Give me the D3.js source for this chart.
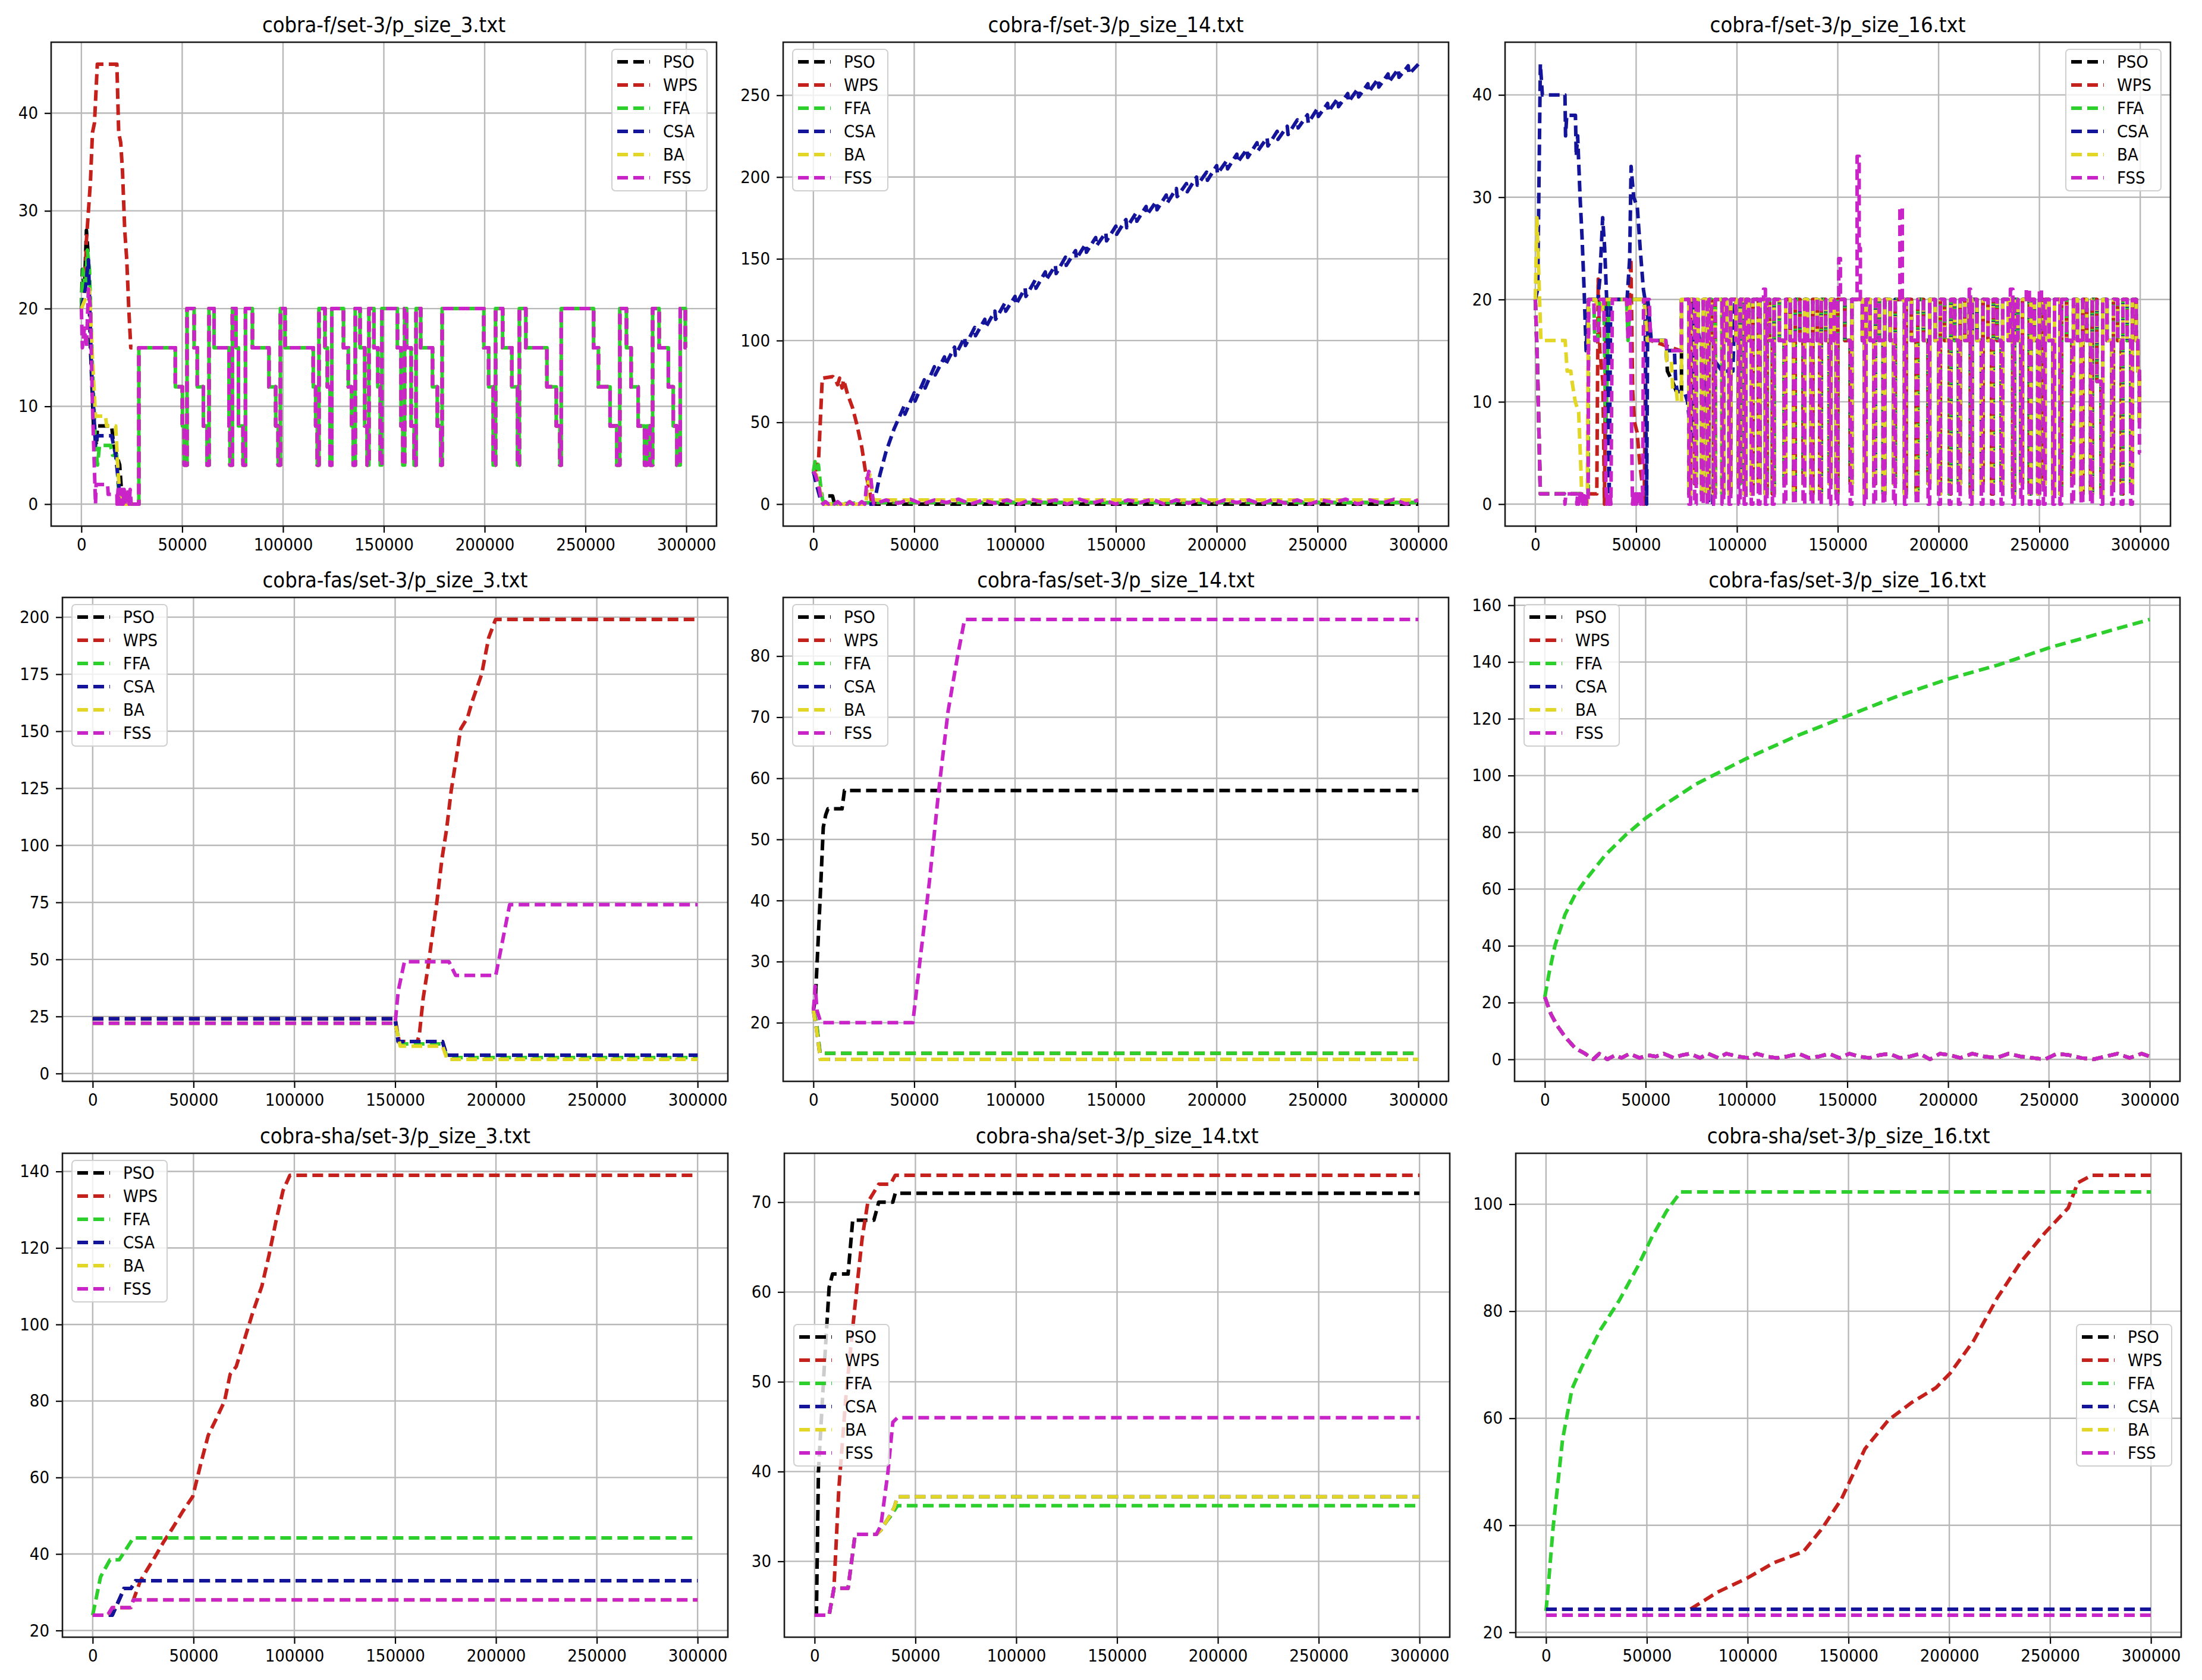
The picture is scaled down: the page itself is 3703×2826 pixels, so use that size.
<!DOCTYPE html>
<html>
<head>
<meta charset="utf-8">
<script src="https://cdn.jsdelivr.net/npm/d3@7"></script>
<style>
  body { margin: 0; background: #fff; }
  text { font-family: "DejaVu Sans Condensed", "DejaVu Sans", sans-serif; font-stretch: condensed; fill: #000; }
</style>
</head>
<body>
<svg id="chart"></svg>
<script>
// ---- shared ----
var algos = ["PSO", "WPS", "FFA", "CSA", "BA", "FSS"];
var colors = ["#000000", "#c4201c", "#2ccf2c", "#14149a", "#e2d626", "#c824c8"];
var xTicks = [0, 50000, 100000, 150000, 200000, 250000, 300000];

// ---- cobra-f / p_size_3 ----
var f3Ticks = [0, 10, 20, 30, 40];
var f3PsoHead = [[0,20],[500,24],[1500,22],[2500,28],[3200,26],[4500,16],[6000,8],[7500,6],[8000,8],[15000,8],[16000,6],[19000,4],[20000,1],[24000,0],[25300,0]];
var f3WpsHead = [[0,20],[1500,21],[2500,27],[4500,33],[5500,38],[6500,39],[7900,45],[17600,45],[18500,38],[19500,37],[20400,34],[21500,28],[22500,25],[23500,20],[24500,16],[25300,16]];
var f3FfaHead = [[0,20],[800,24],[2000,22],[3000,26],[4000,24],[5500,14],[7000,6],[8000,4],[9000,6],[14500,6],[15500,5],[17500,5],[18500,1],[20000,0],[25300,0]];
var f3CsaHead = [[0,20],[2000,22],[3500,25],[5000,14],[7000,6],[8000,7],[15000,7],[17000,5],[19000,1],[21000,0],[25300,0]];
var f3BaHead = [[0,20],[2000,21],[4000,22],[5500,15],[7000,9],[12000,9],[12500,8],[17000,8],[18000,4],[19000,1],[20500,0],[25300,0]];
var f3FssHead = [[0,20],[500,16],[1500,18],[2500,16],[3500,22],[4500,20],[5500,10],[7000,0],[7300,2],[13000,2],[13300,1],[17600,1],[17700,0],[18200,1.5],[18700,0],[19200,1.5],[19700,0],[20200,1.5],[20700,0],[21200,1.5],[21700,0],[22200,1.5],[22700,0],[23200,1.5],[23700,0],[24200,1.5],[24700,0],[25300,0]];
// step changes shared by all algorithms after ~25000 evaluations: [x, new value]
var f3Tail = [[25300,20],[28500,16],[46600,12],[50100,8],[51000,4],[52400,20],[55900,16],[57500,12],[60500,8],[62300,4],[63300,20],[65800,16],[73200,8],[73700,4],[74900,20],[76700,16],[77900,8],[80200,4],[81400,20],[84800,16],[93000,12],[96400,8],[97600,4],[98700,20],[101000,16],[115000,12],[116200,8],[117000,4],[117800,20],[120800,16],[122000,12],[123300,4],[124200,20],[130000,16],[132400,12],[134000,8],[134800,4],[135800,20],[138200,16],[140500,8],[141700,4],[142600,20],[145100,16],[147000,12],[148200,4],[149000,20],[156700,16],[158500,8],[159400,4],[160300,20],[161300,16],[163500,8],[165000,4],[166000,20],[168300,16],[174100,12],[176500,8],[178200,4],[178900,20],[199600,16],[202000,12],[204200,4],[205400,20],[208900,16],[213500,12],[216300,4],[217200,20],[220400,16],[230900,12],[235500,8],[237300,4],[238000,20],[254000,16],[256400,12],[262200,8],[265500,4],[267000,20],[270300,16],[272600,12],[276100,8],[279300,4],[280500,8],[282000,4],[283300,20],[286500,16],[291100,12],[293500,8],[295300,4],[297000,20],[299500,16]];

// ---- cobra-f / p_size_14 ----
var f14Ticks = [0, 50, 100, 150, 200, 250];
var f14Pso = [[0,20],[1500,15],[3000,8],[4500,5],[9500,5],[10500,0],[30000,0],[300000,0]];
var f14Wps = [[0,20],[1500,21],[2600,28],[4400,77],[9600,78],[11000,76],[12000,73],[13000,77],[14200,71],[15000,76],[17000,67],[19400,59],[21700,48],[24100,34],[25700,21],[27000,13],[28200,6],[29000,0],[30000,1],[300000,1]];
var f14Ffa = [[0,20],[800,26],[1700,22],[2500,24],[3500,12],[4500,3],[5500,0],[30000,1],[300000,1]];
var f14Csa = [[0,20],[1500,12],[3500,3],[5000,0],[30000,0],[33000,18],[36000,32],[40000,46],[45000,60],[45400,55],[50000,68],[50400,63],[55000,76],[55400,71],[60000,84],[60400,79],[65000,90],[65400,85],[70000,96],[70400,91],[75000,102],[75400,97],[80000,108],[80400,103],[85000,113],[85400,108],[90000,118],[90400,113],[95000,123],[95400,118],[100000,127],[100400,122],[105000,132],[105400,127],[110000,137],[110400,132],[115000,142],[115400,137],[120000,146],[120400,141],[125000,151],[125400,146],[130000,155],[130400,150],[135000,159],[135400,154],[140000,163],[140400,158],[145000,166],[145400,161],[150000,170],[150400,165],[155000,174],[155400,169],[160000,178],[160400,173],[165000,182],[165400,177],[170000,185],[170400,180],[175000,189],[175400,184],[180000,193],[180400,188],[185000,196],[185400,191],[190000,200],[190400,195],[195000,203],[195400,198],[200000,207],[200400,202],[205000,210],[205400,205],[210000,214],[210400,209],[215000,217],[215400,212],[220000,221],[220400,216],[225000,224],[225400,219],[230000,228],[230400,223],[235000,231],[235400,226],[240000,235],[240400,230],[245000,238],[245400,233],[250000,242],[250400,237],[255000,245],[255400,240],[260000,248],[260400,243],[265000,251],[265400,246],[270000,254],[270400,249],[275000,257],[275400,252],[280000,260],[280400,255],[285000,263],[285400,258],[290000,266],[290400,261],[295000,268],[295400,263],[300000,269]];
var f14Ba = [[0,20],[1500,18],[3000,10],[4500,2],[5500,0],[26000,0],[27000,12],[28000,18],[29500,4],[30000,2.5],[300000,2.5]];
var f14Fss = [[0,20],[1000,18],[2500,12],[4000,2],[4800,0],[6000,1.5],[7500,0],[9000,1.5],[10500,0],[12000,1.5],[13500,0],[15000,1.5],[16500,0],[18000,1.5],[19500,0],[21000,1.5],[22500,0],[24000,1.5],[25500,0],[26500,14],[27500,20],[28500,16],[29500,3],
  [30000,0],[36000,2.5],[42000,0.5],[48000,3],[54000,0],[60000,2.5],[66000,1],[72000,3],[78000,0],[84000,2.5],[90000,0.5],[96000,2.5],[102000,0],[108000,3],[114000,1],[120000,2.5],[126000,0],[132000,3],[138000,0.5],[144000,2.5],[150000,0],[156000,2.5],[162000,1],[168000,3],[174000,0],[180000,2.5],[186000,0.5],[192000,3],[198000,0],[204000,2.5],[210000,1],[216000,2.5],[222000,0],[228000,3],[234000,0.5],[240000,2.5],[246000,0],[252000,2.5],[258000,1],[264000,3],[270000,0],[276000,2.5],[282000,0.5],[288000,3],[294000,0],[300000,2.5]];

// ---- cobra-f / p_size_16 ----
var f16Ticks = [0, 10, 20, 30, 40];
var f16PsoHead = [[0,20],[1000,14],[2500,1],[26200,1],[26400,20],[54000,20],[55500,16],[64600,16],[65500,13],[68000,12],[70000,11],[72000,11]];
var f16WpsHead = [[0,20],[1000,14],[2500,1],[30500,1],[31200,22],[32000,15],[33500,12],[34300,0],[35000,20],[46600,20],[47400,24],[48300,11],[49200,8],[50500,7],[51800,4],[53000,2],[54000,0],[55000,20],[57000,16],[72000,15]];
var f16FfaHead = [[0,20],[1000,14],[2500,1],[26200,1],[26400,20],[29000,20],[29500,16],[31000,16],[32000,20],[34000,20],[35000,7],[36500,20],[45300,20],[46000,16],[47000,20],[54000,20],[55500,16],[64700,16],[65200,15],[72000,15]];
var f16CsaHead = [[0,20],[1200,21],[2500,43],[3500,40],[14700,40],[15000,36],[15600,38],[19900,38],[20300,34],[21000,36],[22200,30],[23200,26],[24200,21],[25200,15],[26300,20],[31000,20],[32000,22],[33400,28],[34400,25],[35400,20],[36600,0],[37400,20],[45500,20],[46800,24],[47500,33],[48800,30],[50600,29],[52000,25],[53600,21],[54400,20],[55200,0],[55800,20],[57500,16],[64700,16],[65300,15],[69000,15],[69600,12],[70400,11],[74000,11],[75500,10],[77400,6],[78300,20],[81500,16],[84700,13],[86000,0],[88000,0],[89000,14],[92600,13],[98000,13],[99000,20]];
var f16BaHead = [[0,20],[800,28],[1800,22],[2800,16],[14800,16],[15800,13],[17600,13],[18200,12],[19800,10],[21500,9],[22500,4],[23200,0],[25800,0],[26300,20],[30000,20],[30500,19],[33000,19],[33800,20],[45000,20],[46000,18],[47500,20],[54000,20],[55500,16],[64600,16],[65200,14],[67500,14],[68200,11],[70000,11],[70500,10],[72000,10]];
var f16FssHead = [[0,20],[1000,14],[2500,1],[14500,1],[14700,0],[15200,1],[20400,1],[20600,0],[21000,1],[21500,0],[22000,1],[22500,0],[23000,1],[23500,0],[24000,1],[24500,0],[25000,1],[25500,0],[26200,0],[26400,20],[29000,20],[29500,16],[31000,16],[32000,20],[34000,20],[35000,2],[35500,0],[36000,1],[36500,0],[37000,1],[37500,0],[38200,20],[45300,20],[46000,16],[47000,20],[48200,0],[48700,1],[49200,0],[49700,1],[50200,0],[50700,1],[51200,0],[51700,1],[52200,0],[52700,1],[53200,0],[53700,20],[56500,20],[57200,16],[64700,16],[65200,15],[72000,15]];
// dense on/off pattern after ~72000: [x, FSS value, value of the others]
var f16Comb = [
  [72500,20,20],[76200,0,1],[77000,20,20],[79000,0,2],[79800,20,20],[80800,16,16],
  [82500,0,1],[83300,20,20],[85300,0,1],[86100,20,20],[87300,16,16],[88400,0,1],[89200,20,20],
  [92600,0,1],[93400,20,20],[94800,16,16],[96100,0,1],[96900,20,20],[99500,16,16],
  [100800,0,2],[101600,20,20],[103600,0,1],[104400,20,20],[105800,16,16],[107100,0,1],[107900,20,20],
  [110600,0,2],[111400,20,20],[113200,21,20],[114100,0,1],[114900,20,20],[116200,16,16],
  [117600,0,1],[118400,20,20],[121000,16,16],[123400,0,2],[124200,20,20],[126400,16,16],
  [128100,0,1],[128900,20,20],[131200,16,16],[132800,0,2],[133600,20,20],[135000,16,16],
  [136800,0,1],[137600,20,20],[139800,16,16],[141000,0,1],[141800,20,20],[144000,16,16],
  [145700,0,2],[146500,20,20],[148200,16,16],[149200,0,1],[150000,20,20],[150500,24,20],[151300,20,20],
  [153500,16,16],[156200,0,2],[157000,20,20],[159600,34,20],[160600,25,20],[161200,20,20],[162200,16,16],
  [163200,0,1],[164000,20,20],[166000,16,16],[167900,0,2],[168700,20,20],[170600,16,16],
  [172500,0,1],[173300,20,20],[176000,16,16],[177700,0,2],[178500,20,20],[180800,29,20],[182000,20,20],
  [183100,0,1],[183900,20,20],[186500,16,16],[188900,0,1],[189700,20,20],[192500,16,16],
  [194800,0,2],[195600,20,20],[198300,16,16],[200100,0,1],[200900,20,20],[203000,16,16],
  [205300,0,1],[206100,20,20],[208000,16,16],[209900,0,2],[210700,20,20],[213000,16,16],
  [215200,21,20],[215800,0,1],[216600,20,20],[219000,16,16],[221200,0,2],[222000,20,20],[224500,16,16],
  [226300,0,1],[227100,20,20],[229000,16,16],[231000,0,2],[231800,20,20],[234500,16,16],
  [235600,21,20],[236800,0,1],[237600,20,20],[239300,16,16],[240800,0,2],[241600,20,20],
  [243500,21,20],[245000,0,1],[245800,20,20],[247500,16,16],[249200,0,1],[250000,21,20],[251000,20,20],
  [252000,0,2],[252800,20,20],[254800,16,16],[256700,0,1],[257500,20,20],[260200,0,1],[261000,20,20],
  [263500,16,16],[266100,0,2],[266900,20,20],[268900,16,16],[270700,0,1],[271500,20,20],[273500,16,16],
  [275400,0,1],[276200,20,20],[278500,12,12],[280600,0,1],[281400,20,20],[283500,16,16],
  [285900,0,2],[286700,20,20],[288800,16,16],[290600,0,1],[291400,20,20],[293500,16,16],
  [295300,0,2],[296100,20,20],[298000,16,16],[298800,13,13],[299600,5,8]
];

// ---- cobra-fas / p_size_3 ----
var fas3Ticks = [0, 25, 50, 75, 100, 125, 150, 175, 200];
var fas3Pso = [[0,24],[150000,24],[151500,14],[173500,14],[175500,8],[300000,8]];
var fas3Wps = [[0,24],[150000,24],[152000,14],[161000,14],[162000,17],[163900,33],[166200,46],[168500,61],[170800,76],[173200,94],[175500,107],[177800,124],[180100,137],[182500,151],[185900,156],[188200,163],[192900,175],[196400,191],[199800,199],[300000,199]];
var fas3Ffa = [[0,22],[150000,22],[152500,13],[173500,13],[175800,7],[300000,7]];
var fas3Csa = [[0,24],[150000,24],[151500,14],[173500,14],[175500,8],[300000,8]];
var fas3Ba = [[0,22],[150000,22],[152500,12],[173500,12],[175800,6.2],[300000,6.2]];
var fas3Fss = [[0,22],[150000,22],[151500,36],[154600,49],[176700,49],[180000,43],[199900,43],[206800,74],[300000,74]];

// ---- cobra-fas / p_size_14 ----
var fas14Ticks = [20, 30, 40, 50, 60, 70, 80];
var fas14Pso = [[0,22],[1000,24],[3300,40],[4900,52],[6100,54],[7200,55],[14200,55],[15400,58],[300000,58]];
var fas14Wps = [[0,22],[1500,20],[3300,15],[300000,15]];
var fas14Ffa = [[0,22],[1500,20],[3300,15],[300000,15]];
var fas14Csa = [[0,22],[1500,19],[3500,14],[300000,14]];
var fas14Ba = [[0,22],[1500,19],[3500,14],[300000,14]];
var fas14Fss = [[0,22],[900,26],[1800,22],[3700,20],[49300,20],[52800,30],[57500,43],[62150,58],[66800,71],[71500,80],[75000,86],[300000,86]];

// ---- cobra-fas / p_size_16 ----
var fas16Ticks = [0, 20, 40, 60, 80, 100, 120, 140, 160];
var fas16Ffa = [[0,22],[2000,30],[5000,40],[10000,51],[15000,58],[20000,63],[30000,72],[40000,79],[50000,85],[60000,90],[75000,97],[100000,106],[125000,114],[150000,121],[175000,128],[200000,134],[225000,139],[250000,145],[275000,150],[300000,155]];
var fas16Fss = [[0,22],[3000,16],[6000,12],[10000,8],[15000,4],[20000,2],[24000,0],[27000,2],[31000,0],[35000,1.5],[38000,0.5],[42000,2],[47000,0.5],[51000,1.5],[55000,1],[59000,2],[64000,0.5],[68000,1.5],[72000,2],[77000,0.5],[81000,2],[86000,0.5],[90000,2],[96000,1],[101000,0.5],[105000,2],[110000,1],[115000,0.5],[120000,1],[126000,2],[131000,0.5],[136000,1],[141000,2],[146000,0.5],[151000,2],[156000,1],[161000,0.5],[166000,1.5],[171000,2],[176000,0.5],[181000,1],[186000,2],[191000,0],[196000,2],[201000,1.5],[206000,0.5],[212000,2],[218000,1],[224000,0.5],[230000,2],[236000,1],[242000,0.5],[248000,0],[254000,2],[260000,1.5],[266000,0.5],[272000,0],[278000,1],[284000,2],[290000,0.5],[296000,2],[300000,1]];

// ---- cobra-sha / p_size_3 ----
var sha3Ticks = [20, 40, 60, 80, 100, 120, 140];
var sha3Wps = [[0,24],[8000,24],[10000,26],[18500,26],[20200,28],[23650,33],[30600,39],[35000,43],[39900,47],[44500,51],[49600,55],[53800,64],[57300,71],[61900,76],[65400,80],[68200,87],[71200,89],[74650,95],[79300,103],[83900,110],[87400,118],[90900,127],[94400,135],[97800,139],[300000,139]];
var sha3Ffa = [[0,24],[3900,34],[8600,38.5],[13200,38.5],[15500,40.4],[20200,44.2],[300000,44.2]];
var sha3Csa = [[0,24],[9700,24],[14800,30],[15500,31],[19000,31],[21300,33],[300000,33]];
var sha3Fss = [[0,24],[7400,24],[9700,26],[19000,26],[20200,28],[300000,28]];

// ---- cobra-sha / p_size_14 ----
var sha14Ticks = [30, 40, 50, 60, 70];
var sha14Pso = [[0,24],[900,24],[1900,40],[4900,52],[7200,60.5],[8900,62],[16600,62],[18900,68],[29400,68],[31800,70],[38800,70],[40000,71],[300000,71]];
var sha14Wps = [[0,24],[7200,24],[9600,27],[12000,38],[15400,48],[18000,54],[21200,61],[23600,66],[26400,70],[31800,72],[37600,72],[40000,73],[300000,73]];
var sha14Ffa = [[0,24],[7200,24],[9600,27],[16600,27],[20100,33],[30600,33],[37600,35],[41100,36.2],[300000,36.2]];
var sha14Ba = [[0,24],[7200,24],[9600,27],[16600,27],[20100,33],[30600,33],[33000,33.5],[37600,35.2],[39500,36],[41100,37.2],[300000,37.2]];
var sha14Fss = [[0,24],[7200,24],[9600,27],[16600,27],[20100,33],[30600,33],[32900,34],[36400,40],[38800,45.5],[41100,46],[300000,46]];

// ---- cobra-sha / p_size_16 ----
var sha16Ticks = [20, 40, 60, 80, 100];
var sha16Wps = [[0,24.3],[71500,24.3],[85000,27.5],[99600,30.1],[113000,33],[127700,35.1],[137100,39.5],[146500,44.9],[158200,54.3],[169900,59.7],[181600,63],[193400,65.7],[200400,68.4],[212100,74.5],[223800,82.5],[235500,89.2],[247300,94.6],[259000,99.3],[263700,104],[270700,105.4],[300000,105.4]];
var sha16Ffa = [[0,24],[1200,29],[3500,39.5],[8200,56],[12900,65.5],[17600,69.5],[26950,76.5],[36300,82],[45700,88.5],[52700,94],[59800,98.7],[66800,102.3],[300000,102.3]];
var sha16Csa = [[0,24.3],[300000,24.3]];
var sha16Fss = [[0,23.2],[300000,23.2]];

// ---- helpers ----
// append step changes [x, v] to a head of points, holding values flat between changes
function withSteps(head, steps) {
  var pts = head.slice();
  var v = pts[pts.length - 1][1];
  steps.forEach(function(s) {
    if (s[0] <= pts[pts.length - 1][0]) return;
    pts.push([s[0], v]);
    pts.push([s[0], s[1]]);
    v = s[1];
  });
  pts.push([300000, v]);
  return pts;
}
function combCol(col) {
  return f16Comb.map(function(c) { return [c[0], c[col]]; });
}
// the shared p_size_3 tail, drawn as its own path per algorithm
var f3TailPts = withSteps([[25300, 0]], f3Tail);

var panels = [
  { title: "cobra-f/set-3/p_size_3.txt", left: 86, top: 71, yTicks: f3Ticks, legend: "ur",
    series: [f3PsoHead, f3WpsHead, f3FfaHead, f3CsaHead, f3BaHead, f3FssHead],
    tails: [f3TailPts, f3TailPts, f3TailPts, f3TailPts, f3TailPts, f3TailPts] },
  { title: "cobra-f/set-3/p_size_14.txt", left: 1317, top: 71, yTicks: f14Ticks, legend: "ul",
    series: [f14Pso, f14Wps, f14Ffa, f14Csa, f14Ba, f14Fss] },
  { title: "cobra-f/set-3/p_size_16.txt", left: 2531, top: 71, yTicks: f16Ticks, legend: "ur",
    series: [withSteps(f16PsoHead, combCol(2)), withSteps(f16WpsHead, combCol(2)), withSteps(f16FfaHead, combCol(2)),
             withSteps(f16CsaHead, combCol(2)), withSteps(f16BaHead, combCol(2)), withSteps(f16FssHead, combCol(1))] },
  { title: "cobra-fas/set-3/p_size_3.txt", left: 105, top: 1005, yTicks: fas3Ticks, legend: "ul",
    series: [fas3Pso, fas3Wps, fas3Ffa, fas3Csa, fas3Ba, fas3Fss] },
  { title: "cobra-fas/set-3/p_size_14.txt", left: 1317, top: 1005, yTicks: fas14Ticks, legend: "ul",
    series: [fas14Pso, fas14Wps, fas14Ffa, fas14Csa, fas14Ba, fas14Fss] },
  { title: "cobra-fas/set-3/p_size_16.txt", left: 2547, top: 1005, yTicks: fas16Ticks, legend: "ul",
    series: [fas16Fss, fas16Fss, fas16Ffa, fas16Fss, fas16Fss, fas16Fss] },
  { title: "cobra-sha/set-3/p_size_3.txt", left: 105, top: 1940, yTicks: sha3Ticks, legend: "ul",
    series: [sha3Csa, sha3Wps, sha3Ffa, sha3Csa, sha3Fss, sha3Fss] },
  { title: "cobra-sha/set-3/p_size_14.txt", left: 1319, top: 1940, yTicks: sha14Ticks, legend: "cl",
    series: [sha14Pso, sha14Wps, sha14Ffa, sha14Ba, sha14Ba, sha14Fss] },
  { title: "cobra-sha/set-3/p_size_16.txt", left: 2549, top: 1940, yTicks: sha16Ticks, legend: "cr",
    series: [sha16Csa, sha16Wps, sha16Ffa, sha16Csa, sha16Fss, sha16Fss] }
];

var width = 3703, height = 2826;
var axW = 1119, axH = 814;
var lineW = 6, dash = "18 9";

var svg = d3.select("#chart").attr("width", width).attr("height", height);
svg.append("rect").attr("width", width).attr("height", height).attr("fill", "#fff");

panels.forEach(function(p, pi) {
  var g = svg.append("g").attr("transform", "translate(" + p.left + "," + p.top + ")");

  var x = d3.scaleLinear().domain([-15000, 315000]).range([0, axW]);
  var vals = [].concat.apply([], p.series.concat(p.tails || [])).map(function(d) { return d[1]; });
  var lo = d3.min(vals), hi = d3.max(vals), pad = (hi - lo) * 0.05;
  var y = d3.scaleLinear().domain([lo - pad, hi + pad]).range([axH, 0]);

  // grid
  g.append("g").selectAll("line").data(xTicks).enter().append("line")
    .attr("x1", function(d) { return x(d); }).attr("x2", function(d) { return x(d); })
    .attr("y1", 0).attr("y2", axH)
    .attr("stroke", "#b8b8b8").attr("stroke-width", 2.4);
  g.append("g").selectAll("line").data(p.yTicks).enter().append("line")
    .attr("y1", function(d) { return y(d); }).attr("y2", function(d) { return y(d); })
    .attr("x1", 0).attr("x2", axW)
    .attr("stroke", "#b8b8b8").attr("stroke-width", 2.4);

  // lines, clipped to the axes
  g.append("clipPath").attr("id", "clip" + pi)
    .append("rect").attr("width", axW).attr("height", axH);
  var line = d3.line().x(function(d) { return x(d[0]); }).y(function(d) { return y(d[1]); });
  var plot = g.append("g").attr("clip-path", "url(#clip" + pi + ")");
  plot.selectAll("path.head").data(p.series).enter().append("path")
    .attr("class", "head")
    .attr("d", line)
    .attr("fill", "none")
    .attr("stroke", function(d, i) { return colors[i]; })
    .attr("stroke-width", lineW)
    .attr("stroke-dasharray", dash)
    .attr("stroke-linejoin", "round");
  if (p.tails) {
    // FFA's dashes fall in the gaps of FSS's dashes in the shared tail
    plot.selectAll("path.tail").data(p.tails).enter().append("path")
      .attr("class", "tail")
      .attr("d", line)
      .attr("fill", "none")
      .attr("stroke", function(d, i) { return colors[i]; })
      .attr("stroke-width", lineW)
      .attr("stroke-dasharray", dash)
      .attr("stroke-dashoffset", function(d, i) { return i === 2 ? 13.5 : 0; })
      .attr("stroke-linejoin", "round");
  }

  // axes
  var ax = g.append("g").attr("transform", "translate(0," + axH + ")")
    .call(d3.axisBottom(x).tickValues(xTicks).tickFormat(d3.format("d")).tickSize(11).tickPadding(9));
  var ay = g.append("g")
    .call(d3.axisLeft(y).tickValues(p.yTicks).tickFormat(d3.format("d")).tickSize(11).tickPadding(11));
  [ax, ay].forEach(function(a) {
    a.select(".domain").remove();
    a.selectAll(".tick line").attr("stroke", "#000").attr("stroke-width", 2.2);
    a.selectAll(".tick text").attr("font-size", 29)
      .style("font-family", "'DejaVu Sans Condensed','DejaVu Sans',sans-serif");
  });

  g.append("rect").attr("width", axW).attr("height", axH)
    .attr("fill", "none").attr("stroke", "#1a1a1a").attr("stroke-width", 2.6);

  g.append("text").attr("x", axW / 2).attr("y", -17)
    .attr("text-anchor", "middle").attr("font-size", 36).text(p.title);

  // legend
  var bw = 160, bh = 238;
  var bx = (p.legend === "ur" || p.legend === "cr") ? axW - 16 - bw : 16;
  var by = (p.legend === "cl" || p.legend === "cr") ? (axH - bh) / 2 : 12;
  var lg = g.append("g").attr("transform", "translate(" + bx + "," + by + ")");
  lg.append("rect").attr("width", bw).attr("height", bh).attr("rx", 6)
    .attr("fill", "#fff").attr("fill-opacity", 0.8)
    .attr("stroke", "#cfcfcf").attr("stroke-width", 2);
  var items = lg.selectAll("g.item").data(algos).enter().append("g")
    .attr("transform", function(d, i) { return "translate(0," + (21 + 39 * i) + ")"; });
  items.append("line").attr("x1", 9).attr("x2", 64)
    .attr("stroke", function(d, i) { return colors[i]; })
    .attr("stroke-width", lineW).attr("stroke-dasharray", dash);
  items.append("text").attr("x", 86).attr("dy", "0.36em").attr("font-size", 29)
    .text(function(d) { return d; });
});
</script>
</body>
</html>
